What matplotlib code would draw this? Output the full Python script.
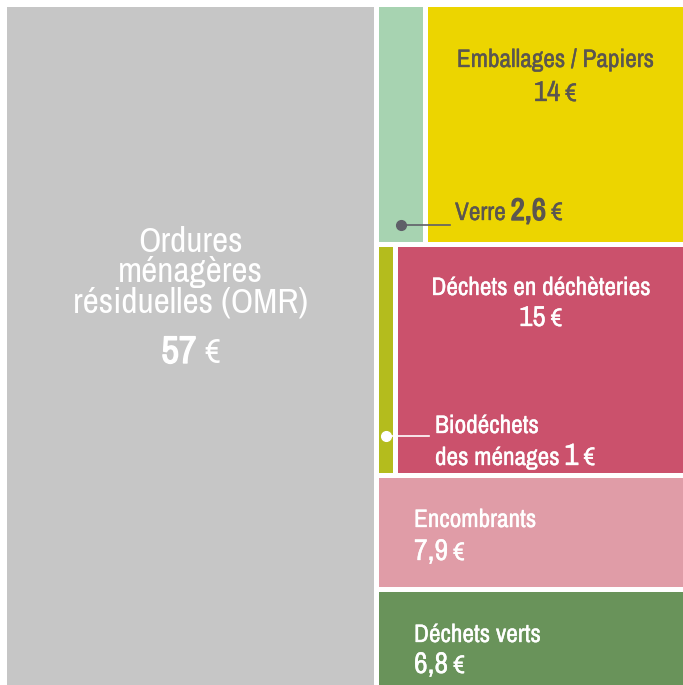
import matplotlib
matplotlib.use('Agg')
import matplotlib.pyplot as plt
from matplotlib import font_manager as fm
from matplotlib import patheffects as pe
from matplotlib.patches import Rectangle
from matplotlib.transforms import IdentityTransform

# DATA : coût par habitant (euros)
omr_value = 57
row_labels = [['Verre', 'Emballages / Papiers'],
              ['Biodéchets des ménages', 'Déchets en déchèteries'],
              ['Encombrants'],
              ['Déchets verts']]
row_values = [[2.6, 14],
              [1, 15],
              [7.9],
              [6.8]]
row_colors = [['#a7d3b1', '#ecd500'],
              ['#b4bc1d', '#cb516c'],
              ['#e09ca7'],
              ['#69935a']]
omr_color = '#c6c6c6'

# pick a narrow font if one is installed
family, stretch = None, 'normal'
for f in fm.fontManager.ttflist:
    if 'Narrow' in f.name or 'Condensed' in f.name:
        family, stretch = f.name, 'normal'
        break
    if f.stretch in ('condensed', 'semi-condensed', 'extra-condensed') and family is None:
        family, stretch = f.name, f.stretch
if family is None:
    names = {f.name for f in fm.fontManager.ttflist}
    family = 'Roboto' if 'Roboto' in names else 'Liberation Sans'
plt.rcParams['font.family'] = [family, 'DejaVu Sans']
plt.rcParams['font.stretch'] = stretch

# does the family have a real bold face?
bold_file = fm.findfont(fm.FontProperties(family=family, weight='bold', stretch=stretch))
has_bold = any(f.fname == bold_file and isinstance(f.weight, int) and f.weight >= 600
               for f in fm.fontManager.ttflist)

W, H = 683, 685
fig = plt.figure(figsize=(W / 100, H / 100), dpi=100)
ax = fig.add_axes([4.5 / W, -2.5 / H, 681 / W, 683 / H])
ax.set_xlim(0, 1)
ax.set_ylim(1, 0)
ax.set_axis_off()

gx, gy = 2.5 / 681, 2.5 / 683


def box(x0, y0, w, h, color):
    ax.add_patch(Rectangle((x0 + gx, y0 + gy), w - 2 * gx, h - 2 * gy,
                           facecolor=color, edgecolor='none'))
    return (x0 + w / 2, y0 + h / 2)


# treemap : OMR on the left, other streams stacked on the right
right_total = sum(sum(r) for r in row_values)
total = omr_value + right_total
left_w = omr_value / total
box(0, 0, left_w, 1, omr_color)

centers = {}
y = 0
for labs, vals, cols in zip(row_labels, row_values, row_colors):
    h = sum(vals) / right_total
    x = left_w
    for lab, v, c in zip(labs, vals, cols):
        w = (1 - left_w) * v / sum(vals)
        centers[lab] = box(x, y, w, h, c)
        x += w
    y += h

r = fig.canvas.get_renderer()


def width_of(s, px, wt='normal'):
    t = fig.text(0, 0, s, fontsize=px * 0.72, fontweight=wt)
    wd = t.get_window_extent(r).width
    t.remove()
    return wd


# scale text so widths match the reference
k_big = min(1.15, 235 / width_of('résiduelles (OMR)', 33))
k_small = min(1.15, 231 / width_of('Déchets en déchèteries', 22))


def put(xp, yp, parts, color='white', ha='left', gap=5, k=None, thick=0.25):
    # parts: (text, size in px, weight); xp, yp = pixels from top-left, baseline
    k = k_small if k is None else k
    ts = []
    for s, px, wt in parts:
        t = fig.text(0, 0, s, fontsize=px * 0.72 * k, fontweight=wt, color=color,
                     transform=IdentityTransform(), va='baseline', ha='left')
        lw = 1.0 if (wt == 'bold' and not has_bold) else thick
        if lw > 0:
            t.set_path_effects([pe.withStroke(linewidth=lw, foreground=color)])
        ts.append(t)
    widths = [t.get_window_extent(r).width for t in ts]
    tot = sum(widths) + gap * (len(ts) - 1)
    x = xp - tot / 2 if ha == 'center' else xp
    for t, wd in zip(ts, widths):
        t.set_position((x, H - yp))
        x += wd + gap


def to_px(pt):
    disp = ax.transData.transform(pt)
    return disp[0], H - disp[1]


grey_txt = '#5b5650'
cx_omr = to_px((left_w / 2, 0))[0]

# OMR
put(cx_omr, 252, [('Ordures', 33, 'normal')], ha='center', k=k_big, thick=0)
put(cx_omr, 282, [('ménagères', 33, 'normal')], ha='center', k=k_big, thick=0)
put(cx_omr, 312, [('résiduelles (OMR)', 33, 'normal')], ha='center', k=k_big, thick=0)
put(cx_omr, 363, [(f'{omr_value}', 36, 'bold'), ('€', 32, 'normal')], ha='center',
    gap=8, k=k_big, thick=0)

# Emballages / Papiers
cx = to_px(centers['Emballages / Papiers'])[0]
put(cx, 67, [('Emballages / Papiers', 22, 'normal')], color=grey_txt, ha='center')
put(cx, 101, [('14', 25, 'normal'), ('€', 22, 'normal')], color=grey_txt, ha='center')

# Verre
vx = to_px(centers['Verre'])[0]
vy = (222 - 4.5 + 2.5) / 683
ax.plot([(vx - 4.5) / 681, (450 - 4.5) / 681], [vy, vy], color='#5f5f68', lw=1.2)
ax.plot([(vx - 4.5) / 681], [vy], 'o', color='#5f5f68', ms=7)
put(455, 220, [('Verre', 22, 'normal'), ('2,6', 27, 'bold'), ('€', 22, 'normal')],
    color=grey_txt)

# Déchets en déchèteries
cx = to_px(centers['Déchets en déchèteries'])[0]
put(cx, 295, [('Déchets en déchèteries', 22, 'normal')], ha='center')
put(cx, 326, [('15', 25, 'normal'), ('€', 22, 'normal')], ha='center')

# Biodéchets
bx = to_px(centers['Biodéchets des ménages'])[0]
by = (433 - 4.5 + 2.5) / 683
ax.plot([(bx - 4.5) / 681, (429 - 4.5) / 681], [by, by], color='white', lw=1.2)
ax.plot([(bx - 4.5) / 681], [by], 'o', color='white', ms=7)
put(435, 433, [('Biodéchets', 22, 'normal')])
put(435, 465, [('des ménages', 22, 'normal'), ('1', 27, 'normal'), ('€', 22, 'normal')])

# Encombrants
put(414, 527, [('Encombrants', 22, 'normal')])
put(414, 560, [('7,9', 26, 'normal'), ('€', 22, 'normal')])

# Déchets verts
put(414, 642, [('Déchets verts', 22, 'normal')])
put(414, 673, [('6,8', 26, 'normal'), ('€', 22, 'normal')])

fig.savefig('out.png', dpi=100, facecolor='white')
